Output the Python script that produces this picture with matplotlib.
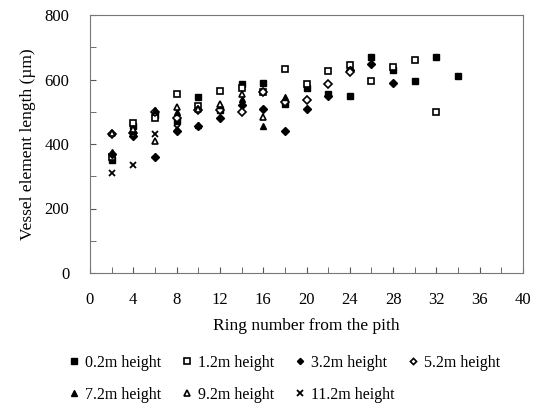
import matplotlib.pyplot as plt
from matplotlib.ticker import MultipleLocator

plt.rcParams['font.family'] = ['Liberation Serif', 'DejaVu Serif']

# ring number from the pith, per sampling height
rings_02 = [2, 4, 6, 8, 10, 12, 14, 16, 18, 20, 22, 24, 26, 28, 30, 32, 34]
len_02 = [350, 455, 490, 470, 545, 505, 585, 590, 525, 575, 555, 550, 670, 630, 595, 670, 612]

rings_12 = [2, 4, 6, 8, 10, 12, 14, 16, 18, 20, 22, 24, 26, 28, 30, 32]
len_12 = [360, 465, 480, 555, 518, 565, 575, 562, 632, 585, 627, 645, 595, 640, 660, 500]

rings_32 = [2, 4, 6, 8, 10, 12, 14, 16, 18, 20, 22, 24, 26, 28]
len_32 = [370, 425, 360, 440, 455, 480, 520, 510, 440, 508, 550, 630, 648, 590]

rings_52 = [2, 4, 6, 8, 10, 12, 14, 16, 18, 20, 22, 24]
len_52 = [430, 435, 500, 480, 505, 505, 500, 560, 530, 536, 585, 623]

rings_72 = [2, 4, 6, 8, 10, 12, 14, 16, 18]
len_72 = [375, 440, 505, 500, 460, 520, 540, 456, 545]

rings_92 = [2, 4, 6, 8, 10, 12, 14, 16]
len_92 = [433, 445, 410, 515, 510, 525, 555, 484]

rings_112 = [2, 4, 6, 8]
len_112 = [310, 335, 430, 450]

fig = plt.figure(figsize=(5.4, 4.03), dpi=100)
ax = fig.add_axes([90 / 540, 1 - 273 / 403, 433 / 540, 258 / 403])

ms = 5
h = []
h += ax.plot(rings_02, len_02, 's', color='black', ms=ms, label='0.2m height')
h += ax.plot(rings_12, len_12, 's', mfc='white', mec='black', mew=1.2, ms=ms, label='1.2m height')
h += ax.plot(rings_32, len_32, 'D', color='black', ms=ms - 0.8, label='3.2m height')
h += ax.plot(rings_52, len_52, 'D', mfc='white', mec='black', mew=1.2, ms=ms - 0.8, label='5.2m height')
h += ax.plot(rings_72, len_72, '^', color='black', ms=ms, label='7.2m height')
h += ax.plot(rings_92, len_92, '^', mfc='white', mec='black', mew=1.2, ms=ms, label='9.2m height')
h += ax.plot(rings_112, len_112, 'x', color='black', mew=1.3, ms=ms, label='11.2m height')

ax.set_xlim(0, 40)
ax.set_ylim(0, 800)
ax.xaxis.set_major_locator(MultipleLocator(4))
ax.xaxis.set_minor_locator(MultipleLocator(2))
ax.yaxis.set_major_locator(MultipleLocator(200))
ax.yaxis.set_minor_locator(MultipleLocator(100))
ax.tick_params(which='both', direction='in', labelsize=12, color='#555555')
ax.tick_params(which='major', length=4)
ax.tick_params(which='minor', length=4)
ax.tick_params(axis='x', pad=14)
ax.tick_params(axis='y', pad=15)
for sp in ax.spines.values():
    sp.set_color('#777777')

ax.set_xlabel('Ring number from the pith', fontsize=12.5, labelpad=7)
ax.set_ylabel('Vessel element length (µm)', fontsize=12.5, labelpad=6)

# two legend rows sharing the same column grid
leg_kw = dict(loc='center left', ncol=4, frameon=False, fontsize=11.5,
              markerscale=0.75, handlelength=0.6, handletextpad=0.4,
              columnspacing=1.3)
fig.legend(h[:4], [x.get_label() for x in h[:4]],
           bbox_to_anchor=(55 / 540, 1 - 363 / 403), **leg_kw)
fig.legend(h[4:], [x.get_label() for x in h[4:]],
           bbox_to_anchor=(55 / 540, 1 - 395 / 403), **leg_kw)

fig.savefig('out.png', dpi=100)
